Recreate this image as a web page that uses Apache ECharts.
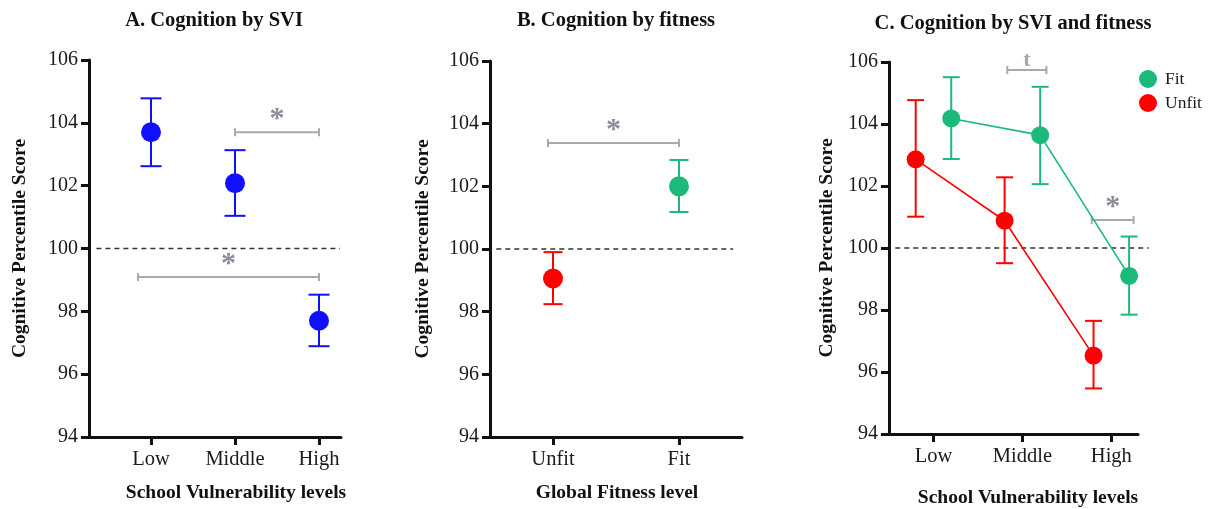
<!DOCTYPE html>
<html><head><meta charset="utf-8">
<script src="https://cdn.jsdelivr.net/npm/echarts@6/dist/echarts.min.js"></script>
<style>html,body{margin:0;padding:0;background:#fff}#c{width:1209px;height:509px}</style>
</head><body><div id="c"></div>
<script>
// ---- data ----
const sviCats = ['Low', 'Middle', 'High'];
const fitCats = ['Unfit', 'Fit'];
const yTicks = [94, 96, 98, 100, 102, 104, 106];

// Panel A: cognition by SVI
const sviMean = [103.70, 102.08, 97.70];
const sviLow  = [102.62, 101.04, 96.89];
const sviHigh = [104.78, 103.13, 98.53];

// Panel B: cognition by fitness
const fitMean = [99.06, 102.00];
const fitLow  = [98.24, 101.18];
const fitHigh = [99.90, 102.84];

// Panel C: cognition by SVI and fitness
const cFitMean   = [104.18, 103.64, 99.10];
const cFitLow    = [102.87, 102.06, 97.85];
const cFitHigh   = [105.51, 105.20, 100.37];
const cUnfitMean = [102.86, 100.88, 96.53];
const cUnfitLow  = [101.01, 99.51, 95.47];
const cUnfitHigh = [104.77, 102.28, 97.65];

// significance brackets: [from, to, y, label] in axis units
const sigA = [[2.0, 3.0, 103.70, '*'], [0.845, 3.0, 99.09, '*']];
const sigB = [[0.96, 2.0, 103.38, '*']];
const sigC = [[1.83, 2.27, 105.74, 't'], [2.78, 3.25, 100.90, '*']];

const refValue = 100;

// ---- styling ----
const SERIF = '"Liberation Serif", "Times New Roman", serif';
const BLUE = '#1010ff', RED = '#ff0000', GREEN = '#1bb97a', GRAY = '#a9a9a9';
const groupOffset = 0.2;

const chart = echarts.init(document.getElementById('c'), null, {renderer: 'canvas'});

function yAxisOpt(gi, gap) {
  return {
    gridIndex: gi, type: 'value', min: yTicks[0], max: yTicks[yTicks.length - 1], interval: 2,
    name: 'Cognitive Percentile Score', nameLocation: 'middle', nameRotate: 90, nameGap: gap,
    nameTextStyle: {fontFamily: SERIF, fontWeight: 'bold', fontSize: 19.5, color: '#111'},
    axisLine: {show: true, lineStyle: {color: '#111', width: 3}},
    axisTick: {show: true, length: 8, inside: false, lineStyle: {color: '#111', width: 3}},
    axisLabel: {fontFamily: SERIF, fontSize: 20, color: '#1a1a1a', margin: 11},
    splitLine: {show: false}
  };
}
function xAxisOpt(gi, min, max, cats) {
  const vals = cats.map((c, i) => i + 1);
  return {
    gridIndex: gi, type: 'value', min: min, max: max,
    axisLine: {show: true, onZero: false, lineStyle: {color: '#111', width: 3}},
    axisTick: {show: true, length: 8, customValues: vals, lineStyle: {color: '#111', width: 3}},
    axisLabel: {customValues: vals, fontFamily: SERIF, fontSize: 20.5, color: '#1a1a1a', margin: 12,
      formatter: v => cats[Math.round(v) - 1] || ''},
    splitLine: {show: false}
  };
}

function errorRender(color, capHalf) {
  return (params, api) => {
    const x = api.value(0);
    const lo = api.coord([x, api.value(1)]);
    const hi = api.coord([x, api.value(2)]);
    const st = {stroke: color, lineWidth: 2};
    return {type: 'group', children: [
      {type: 'line', shape: {x1: lo[0], y1: lo[1], x2: hi[0], y2: hi[1]}, style: st},
      {type: 'line', shape: {x1: lo[0] - capHalf, y1: lo[1], x2: lo[0] + capHalf, y2: lo[1]}, style: st},
      {type: 'line', shape: {x1: hi[0] - capHalf, y1: hi[1], x2: hi[0] + capHalf, y2: hi[1]}, style: st}
    ]};
  };
}
function errorSeries(gi, xs, lows, highs, color, capHalf) {
  return {
    type: 'custom', xAxisIndex: gi, yAxisIndex: gi, clip: false, z: 3,
    data: xs.map((x, i) => [x, lows[i], highs[i]]),
    renderItem: errorRender(color, capHalf)
  };
}
function sigSeries(gi, sig) {
  return {
    type: 'custom', xAxisIndex: gi, yAxisIndex: gi, clip: false, z: 2,
    data: sig.map(s => [s[0], s[1], s[2]]),
    renderItem: (params, api) => {
      const p1 = api.coord([api.value(0), api.value(2)]);
      const p2 = api.coord([api.value(1), api.value(2)]);
      const lbl = sig[params.dataIndex][3];
      const st = {stroke: GRAY, lineWidth: 2};
      const isStar = lbl === '*';
      return {type: 'group', children: [
        {type: 'line', shape: {x1: p1[0], y1: p1[1], x2: p2[0], y2: p2[1]}, style: st},
        {type: 'line', shape: {x1: p1[0], y1: p1[1] - 4, x2: p1[0], y2: p1[1] + 4}, style: st},
        {type: 'line', shape: {x1: p2[0], y1: p2[1] - 4, x2: p2[0], y2: p2[1] + 4}, style: st},
        {type: 'text', x: (p1[0] + p2[0]) / 2, y: p1[1] - (isStar ? 13 : 10),
          style: {text: lbl, fill: isStar ? '#8a8c98' : '#a6a6a6',
            font: 'bold ' + (isStar ? 30 : 22) + 'px ' + SERIF,
            align: 'center', verticalAlign: 'middle'}}
      ]};
    }
  };
}
function refSeries(gi, x1, x2) {
  return {
    type: 'custom', xAxisIndex: gi, yAxisIndex: gi, clip: false, z: 1,
    data: [[x1, x2, refValue]],
    renderItem: (params, api) => {
      const p1 = api.coord([api.value(0), api.value(2)]);
      const p2 = api.coord([api.value(1), api.value(2)]);
      return {type: 'line', shape: {x1: p1[0], y1: p1[1], x2: p2[0], y2: p2[1]},
        style: {stroke: '#333', lineWidth: 1.5, lineDash: [5, 4]}};
    }
  };
}
function dots(gi, xs, ys, color, size, name) {
  return {
    type: 'scatter', name: name, xAxisIndex: gi, yAxisIndex: gi, symbol: 'circle', symbolSize: size, z: 5,
    itemStyle: {color: color, opacity: 1}, data: xs.map((x, i) => [x, ys[i]]),
    emphasis: {disabled: true}
  };
}

const xA = sviCats.map((c, i) => i + 1);
const xB = fitCats.map((c, i) => i + 1);
const xCFit = sviCats.map((c, i) => i + 1 + groupOffset);
const xCUnfit = sviCats.map((c, i) => i + 1 - groupOffset);

const titleStyle = {fontFamily: SERIF, fontWeight: 'bold', fontSize: 20.5, color: '#111'};
const nameStyle = {fontFamily: SERIF, fontWeight: 'bold', fontSize: 19.5, color: '#111'};

const option = {
  animation: false,
  backgroundColor: '#fff',
  title: [
    {text: 'A. Cognition by SVI', left: 214, top: 10, textAlign: 'center', padding: 0, textStyle: titleStyle},
    {text: 'B. Cognition by fitness', left: 616, top: 10, textAlign: 'center', padding: 0, textStyle: titleStyle},
    {text: 'C. Cognition by SVI and fitness', left: 1013, top: 13, textAlign: 'center', padding: 0, textStyle: titleStyle},
    {text: 'School Vulnerability levels', left: 236, top: 483, textAlign: 'center', padding: 0, textStyle: nameStyle},
    {text: 'Global Fitness level', left: 617, top: 483, textAlign: 'center', padding: 0, textStyle: nameStyle},
    {text: 'School Vulnerability levels', left: 1028, top: 488, textAlign: 'center', padding: 0, textStyle: nameStyle}
  ],
  legend: {
    data: [{name: 'Fit', icon: 'circle'}, {name: 'Unfit', icon: 'circle'}],
    orient: 'vertical', left: 1139, top: 70, itemWidth: 18, itemHeight: 18, itemGap: 6, padding: 0,
    selectedMode: false, textStyle: {fontFamily: SERIF, fontSize: 17.5, color: '#1a1a1a', padding: [0, 0, 0, 3]}
  },
  grid: [
    {left: 89, top: 60, width: 252, height: 377},
    {left: 490, top: 61, width: 252, height: 376},
    {left: 889, top: 62, width: 249, height: 372}
  ],
  xAxis: [
    xAxisOpt(0, 0.262, 3.262, sviCats),
    xAxisOpt(1, 0.5, 2.5, fitCats),
    xAxisOpt(2, 0.5, 3.3, sviCats)
  ],
  yAxis: [yAxisOpt(0, 59), yAxisOpt(1, 57), yAxisOpt(2, 52)],
  series: [
    refSeries(0, 0.35, 3.25),
    refSeries(1, 0.55, 2.43),
    refSeries(2, 0.57, 3.42),
    sigSeries(0, sigA),
    sigSeries(1, sigB),
    sigSeries(2, sigC),
    errorSeries(0, xA, sviLow, sviHigh, BLUE, 10.5),
    dots(0, xA, sviMean, BLUE, 20, 'SVI'),
    errorSeries(1, [xB[0]], [fitLow[0]], [fitHigh[0]], RED, 9.5),
    errorSeries(1, [xB[1]], [fitLow[1]], [fitHigh[1]], GREEN, 9.5),
    dots(1, [xB[0]], [fitMean[0]], RED, 20, 'B-Unfit'),
    dots(1, [xB[1]], [fitMean[1]], GREEN, 20, 'B-Fit'),
    {
      type: 'line', name: 'FitLine', xAxisIndex: 2, yAxisIndex: 2, symbol: 'none', z: 2,
      lineStyle: {color: GREEN, width: 1.6}, data: xCFit.map((x, i) => [x, cFitMean[i]])
    },
    {
      type: 'line', name: 'UnfitLine', xAxisIndex: 2, yAxisIndex: 2, symbol: 'none', z: 2,
      lineStyle: {color: RED, width: 1.6}, data: xCUnfit.map((x, i) => [x, cUnfitMean[i]])
    },
    errorSeries(2, xCFit, cFitLow, cFitHigh, GREEN, 8.5),
    errorSeries(2, xCUnfit, cUnfitLow, cUnfitHigh, RED, 8.5),
    dots(2, xCFit, cFitMean, GREEN, 18, 'Fit'),
    dots(2, xCUnfit, cUnfitMean, RED, 18, 'Unfit')
  ]
};
chart.setOption(option);
</script></body></html>
